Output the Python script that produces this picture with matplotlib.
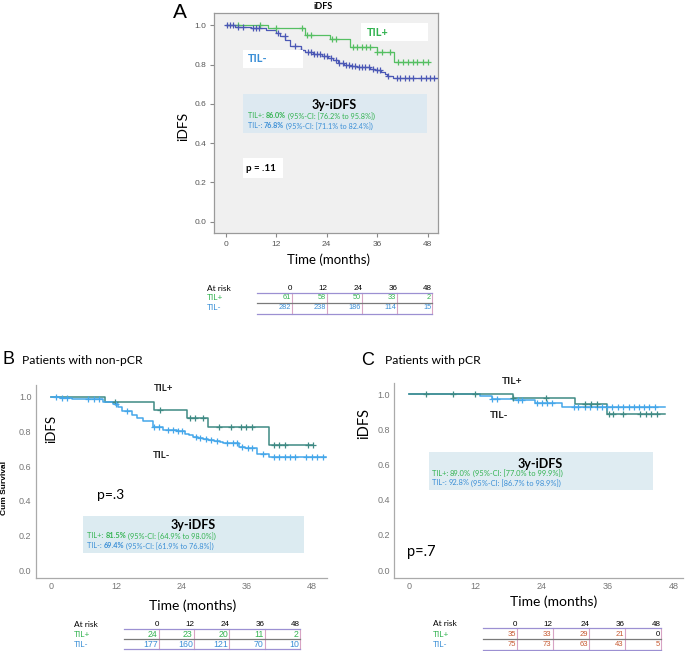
import numpy as np
import matplotlib
matplotlib.use("Agg")
import matplotlib.pyplot as plt

W, H = 685, 651
TXT = ['Lato', 'DejaVu Sans']
NUM = ['Liberation Sans', 'DejaVu Sans']

# ---------------- data ----------------
months_ticks = [0, 12, 24, 36, 48]
y_ticks = [0.0, 0.2, 0.4, 0.6, 0.8, 1.0]

# Panel A (all patients)
A_pos_t = [10.1, 18.8, 24.8, 29.5, 35.9, 40.1]
A_pos_s = [0.988, 0.951, 0.930, 0.891, 0.862, 0.811]
A_pos_end = 48.1
A_pos_c = [3.0, 8.2, 12.0, 18.1, 19.3, 20.2, 25.2, 26.1, 30.3, 31.3, 32.3, 33.3,
           34.3, 36.0, 37.1, 39.1, 41.0, 42.2, 43.4, 44.6, 45.4, 47.0, 48.1]
A_neg_t = [2.3, 6.0, 9.5, 12.0, 13.0, 14.2, 15.3, 17.8, 18.9, 20.8, 22.8, 24.4,
           25.6, 26.8, 28.0, 29.5, 31.1, 34.3, 35.5, 37.0, 37.9, 38.3, 39.8]
A_neg_s = [0.993, 0.985, 0.978, 0.962, 0.945, 0.925, 0.895, 0.875, 0.862, 0.852,
           0.845, 0.835, 0.822, 0.810, 0.800, 0.795, 0.788, 0.780, 0.770, 0.762,
           0.750, 0.742, 0.730]
A_neg_end = 50.4
A_neg_c = [0.4, 1.0, 1.8, 3.0, 4.0, 6.5, 7.2, 8.0, 12.5, 14.0, 16.5, 18.0, 19.5,
           20.2, 21.0, 21.8, 22.5, 23.3, 24.0, 25.0, 26.2, 27.0, 27.8, 28.6, 29.2,
           30.0, 30.8, 31.6, 32.4, 33.2, 34.0, 35.0, 36.0, 36.6, 38.6, 40.6, 41.5,
           42.5, 43.5, 44.5, 46.5, 47.5, 48.5, 49.5]

# Panel B (non-pCR)
B_pos_t = [10.0, 19.0, 25.0, 29.0, 40.1]
B_pos_s = [0.969, 0.921, 0.875, 0.823, 0.719]
B_pos_end = 48.3
B_pos_c = [11.8, 20.1, 25.6, 26.5, 28.0, 31.0, 33.1, 35.0, 36.0, 37.1, 41.0, 42.0,
           43.1, 47.4, 48.2]
B_neg_t = [1.7, 3.9, 9.7, 11.5, 12.3, 13.1, 14.9, 15.8, 17.0, 18.9, 20.7, 22.0,
           23.2, 24.7, 25.5, 26.2, 27.1, 28.0, 29.0, 30.0, 31.1, 31.7, 34.7, 35.7,
           37.9, 40.2]
B_neg_s = [0.994, 0.985, 0.967, 0.960, 0.940, 0.919, 0.894, 0.875, 0.860, 0.827,
           0.810, 0.805, 0.800, 0.787, 0.780, 0.765, 0.760, 0.755, 0.750, 0.745,
           0.738, 0.733, 0.711, 0.702, 0.667, 0.650]
B_neg_end = 50.7
B_neg_c = [1.0, 2.0, 3.0, 6.9, 8.0, 8.9, 12.0, 14.0, 19.0, 20.0, 21.5, 22.5, 23.5,
           24.2, 26.8, 27.5, 28.5, 29.5, 30.5, 32.5, 33.5, 34.2, 35.2, 36.2, 37.0,
           39.0, 41.0, 42.0, 43.0, 44.0, 45.0, 47.0, 48.0, 49.0, 50.0]

# Panel C (pCR)
C_pos_t = [18.9, 30.0, 35.8]
C_pos_s = [0.977, 0.945, 0.890]
C_pos_end = 46.4
C_pos_c = [3.1, 8.0, 12.0, 18.9, 24.9, 31.9, 33.0, 34.0, 36.2, 37.0, 38.8, 41.8,
           42.9, 43.8, 44.9]
C_neg_t = [12.9, 15.0, 18.9, 22.8, 27.7]
C_neg_s = [0.990, 0.975, 0.966, 0.953, 0.930]
C_neg_end = 46.4
C_neg_c = [15.0, 15.9, 19.8, 20.5, 23.2, 24.1, 25.0, 25.9, 29.8, 30.7, 31.9, 32.8,
           34.0, 34.9, 35.8, 36.8, 37.8, 38.8, 39.8, 40.7, 41.7, 42.6, 43.5, 44.5]

# at-risk tables
risk_times = ['0', '12', '24', '36', '48']
A_risk_pos = [61, 58, 50, 33, 2]
A_risk_neg = [282, 238, 186, 114, 15]
B_risk_pos = [24, 23, 20, 11, 2]
B_risk_neg = [177, 160, 121, 70, 10]
C_risk_pos = [35, 33, 29, 21, 0]
C_risk_neg = [75, 73, 63, 43, 5]

# ---------------- colors ----------------
GREEN_T = '#33b351'
BLUE_T = '#3b8fd6'
A_GREEN = '#55bf62'
A_BLUE = '#4b58b5'
TEAL = '#3f8a84'
LBLUE = '#45a7ea'
ORANGE = '#c65a32'

fig = plt.figure(figsize=(W / 100, H / 100), dpi=100)
fig.patch.set_facecolor('white')


def rect(l, t, r, b):
    return [l / W, 1 - b / H, (r - l) / W, (b - t) / H]


def km(ax, t, s, end, cens, color, lw=1.1, ms=4.5):
    tt = np.concatenate([[0.0], t, [end]])
    ss = np.concatenate([[1.0], s, [s[-1]]])
    ax.step(tt, ss, where='post', color=color, lw=lw, zorder=3)
    cens = np.asarray(cens)
    idx = np.searchsorted(np.asarray(t), cens, side='right')
    sv = np.concatenate([[1.0], s])[idx]
    ax.plot(cens, sv, ls='none', marker='+', ms=ms, mew=0.9, color=color, zorder=4)


def style_ticks(ax, size, color, pad):
    ax.set_xticks(months_ticks)
    ax.set_yticks(y_ticks)
    ax.set_yticklabels(['%.1f' % v for v in y_ticks])
    for lab in ax.get_xticklabels() + ax.get_yticklabels():
        lab.set_fontfamily(NUM)
        lab.set_fontsize(size)
        lab.set_color(color)
    ax.tick_params(pad=pad)


# ---------- Panel A ----------
axA = fig.add_axes(rect(214, 13, 438, 232.7))
axA.set_facecolor('#f0f0f0')
axA.set_xlim(-2.78, 50.45)
axA.set_ylim(-0.056, 1.0626)
for sp in axA.spines.values():
    sp.set_color('#9a9a9a')
    sp.set_linewidth(0.9)
km(axA, A_pos_t, A_pos_s, A_pos_end, A_pos_c, A_GREEN, lw=0.9, ms=4)
km(axA, A_neg_t, A_neg_s, A_neg_end, A_neg_c, A_BLUE, lw=0.9, ms=4)
style_ticks(axA, 6, '#555555', 2.5)
axA.tick_params(direction='out', length=3.2, width=0.8, color='#888888')

# ---------- Panel B ----------
axB = fig.add_axes(rect(35.7, 385, 326.7, 578))
axB.set_xlim(-2.76, 50.76)
axB.set_ylim(-0.046, 1.0675)
for k in ['top', 'right']:
    axB.spines[k].set_visible(False)
for k in ['left', 'bottom']:
    axB.spines[k].set_color('#aaaaaa')
    axB.spines[k].set_linewidth(0.9)
km(axB, B_pos_t, B_pos_s, B_pos_end, B_pos_c, TEAL, lw=1.1)
km(axB, B_neg_t, B_neg_s, B_neg_end, B_neg_c, LBLUE, lw=1.1)
style_ticks(axB, 6.5, '#777777', 3)
axB.tick_params(length=0)

# ---------- Panel C ----------
axC = fig.add_axes(rect(394, 383.3, 683.3, 578.3))
axC.set_xlim(-2.72, 49.69)
axC.set_ylim(-0.047, 1.0626)
for k in ['top', 'right']:
    axC.spines[k].set_visible(False)
for k in ['left', 'bottom']:
    axC.spines[k].set_color('#aaaaaa')
    axC.spines[k].set_linewidth(0.9)
km(axC, C_neg_t, C_neg_s, C_neg_end, C_neg_c, LBLUE, lw=1.1)
km(axC, C_pos_t, C_pos_s, C_pos_end, C_pos_c, TEAL, lw=1.1)
style_ticks(axC, 6.5, '#777777', 3)
axC.tick_params(length=0)

# ---------- overlay (pixel coordinates) ----------
ov = fig.add_axes([0, 0, 1, 1], zorder=10)
ov.set_xlim(0, W)
ov.set_ylim(H, 0)
ov.axis('off')
ov.patch.set_alpha(0)


def box(l, t, r, b, color, z=1):
    ov.add_patch(plt.Rectangle((l, t), r - l, b - t, facecolor=color, edgecolor='none', zorder=z))


def txt(x, y, s, size, color='black', weight='normal', ha='left', va='center', fam=TXT, rot=0):
    return ov.text(x, y, s, fontsize=size, color=color, fontweight=weight, ha=ha, va=va,
                   family=fam, rotation=rot, zorder=5)


def rich(x, y, pieces, size):
    t = txt(x, y, pieces[0][0], size, pieces[0][1], pieces[0][2])
    for s, c, w in pieces[1:]:
        t = ov.annotate(s, xy=(1, 0.5), xycoords=t, va='center', ha='left', color=c,
                        fontweight=w, fontsize=size, family=TXT, zorder=5)


def summary(l, t, r, b, cx, ty, y1, y2, x0, pos, neg, pos_bold, neg_bold, color, fs):
    box(l, t, r, b, color)
    txt(cx, ty, '3y-iDFS', 9, 'black', 'bold', ha='center')
    rich(x0, y1, [('TIL+: ', GREEN_T, 'normal'), (pos[0], GREEN_T, 'bold' if pos_bold else 'normal'),
                  (' (95%-CI: [' + pos[1] + ' to ' + pos[2] + '])', GREEN_T, 'normal')], fs)
    rich(x0, y2, [('TIL-: ', BLUE_T, 'normal'), (neg[0], BLUE_T, 'bold' if neg_bold else 'normal'),
                  (' (95%-CI: [' + neg[1] + ' to ' + neg[2] + '])', BLUE_T, 'normal')], fs)


def risk_table(xl, ylab, rows_y, num_right, line_y, line_x0, pos, neg, pos_col, neg_col,
               num_size, hdr_size, zero_black=False):
    txt(xl, ylab, 'At risk', 6, 'black')
    txt(xl, rows_y[0], 'TIL+', 6, GREEN_T)
    txt(xl, rows_y[1], 'TIL-', 6, BLUE_T)
    for i, lab in enumerate(risk_times):
        txt(num_right[i], ylab, lab, hdr_size, 'black', ha='right', fam=NUM)
        c = 'black' if (zero_black and pos[i] == 0) else pos_col
        txt(num_right[i] - 1.2, rows_y[0], str(pos[i]), num_size, c, ha='right', fam=NUM)
        txt(num_right[i] - 1.2, rows_y[1], str(neg[i]), num_size, neg_col, ha='right', fam=NUM)
        ov.plot([num_right[i], num_right[i]], [line_y[0], line_y[2]], color='#d8a4c4', lw=0.8, zorder=2)
    ov.plot([line_x0, num_right[-1]], [line_y[0]] * 2, color='#9c90d2', lw=0.9, zorder=2)
    ov.plot([line_x0, num_right[-1]], [line_y[1]] * 2, color='#7a7a7a', lw=0.9, zorder=2)
    ov.plot([line_x0, num_right[-1]], [line_y[2]] * 2, color='#9c90d2', lw=0.9, zorder=2)


# --- A annotations
txt(173, 13, 'A', 15, 'black', ha='left', fam=NUM)
txt(323, 6.5, 'iDFS', 6.5, 'black', 'bold', ha='center')
box(361, 23, 428, 41, 'white')
txt(366.5, 32.3, 'TIL+', 7.8, GREEN_T, 'bold')
box(243, 50, 303, 68, 'white')
txt(248, 58.3, 'TIL-', 7.8, BLUE_T, 'bold')
summary(243, 94.3, 426.7, 133.3, 334.3, 105, 116, 126, 247.7,
        ('86.0%', '76.2%', '95.8%'), ('76.8%', '71.1%', '82.4%'), True, True, '#dde9f1', 5.2)
box(243, 158.3, 283, 178.3, 'white')
txt(246.5, 168.3, 'p = .11', 7, 'black', 'bold')
txt(183.3, 126.7, 'iDFS', 10, 'black', ha='center', rot=90)
txt(328.3, 259.5, 'Time (months)', 9.5, 'black', ha='center')
risk_table(207.3, 288.3, [297.3, 307.7], [291.7, 327, 362.3, 397.3, 432.3],
           [292.7, 303.3, 314], 257, A_risk_pos, A_risk_neg, GREEN_T, BLUE_T, 5.3, 5.8)

# --- B annotations
txt(3, 360, 'B', 13, 'black', fam=NUM)
txt(21.7, 360.7, 'Patients with non-pCR', 8.7, 'black')
txt(153.7, 388.3, 'TIL+', 7, '#222222', 'bold')
txt(153.3, 456, 'TIL-', 7, '#222222', 'bold')
txt(51.7, 429.3, 'iDFS', 9.5, 'black', ha='center', rot=90)
txt(5, 488.3, 'Cum Survival', 6, 'black', 'bold', ha='center', fam=NUM, rot=90)
txt(96.7, 495, 'p=.3', 10, 'black')
summary(82.7, 515.7, 304, 552.7, 193.3, 525.3, 536, 545.7, 87.3,
        ('81.5%', '64.9%', '98.0%'), ('69.4%', '61.9%', '76.8%'), True, True, '#dcebf1', 5.35)
txt(193, 605.5, 'Time (months)', 10, 'black', ha='center')
risk_table(74, 624.3, [634.3, 644.3], [159, 194, 229.3, 265, 300],
           [629.3, 639.3, 649.3], 124.3, B_risk_pos, B_risk_neg, GREEN_T, BLUE_T, 6.3, 5.8)

# --- C annotations
txt(361.5, 360.5, 'C', 13, 'black', fam=NUM)
txt(385, 361, 'Patients with pCR', 8.7, 'black')
txt(501.7, 381, 'TIL+', 7.5, '#222222', 'bold')
txt(490, 416, 'TIL-', 7.5, '#222222', 'bold')
txt(364, 423.3, 'iDFS', 10.5, 'black', ha='center', rot=90)
txt(406.7, 552.3, 'p=.7', 10.5, 'black')
summary(429.3, 451.7, 652.7, 490, 540, 463.5, 473.3, 482.7, 431.7,
        ('89.0%', '77.0%', '99.9%'), ('92.8%', '86.7%', '98.9%'), False, False, '#dfecf2', 5.45)
txt(553.3, 601.7, 'Time (months)', 10, 'black', ha='center')
risk_table(433.3, 624, [634.3, 644.7], [517.3, 552.7, 589.3, 625, 660.7],
           [628.3, 639.3, 650], 483.3, C_risk_pos, C_risk_neg, ORANGE, ORANGE, 5.5, 5.8,
           zero_black=True)

fig.savefig('out.png', dpi=100, facecolor='white')
